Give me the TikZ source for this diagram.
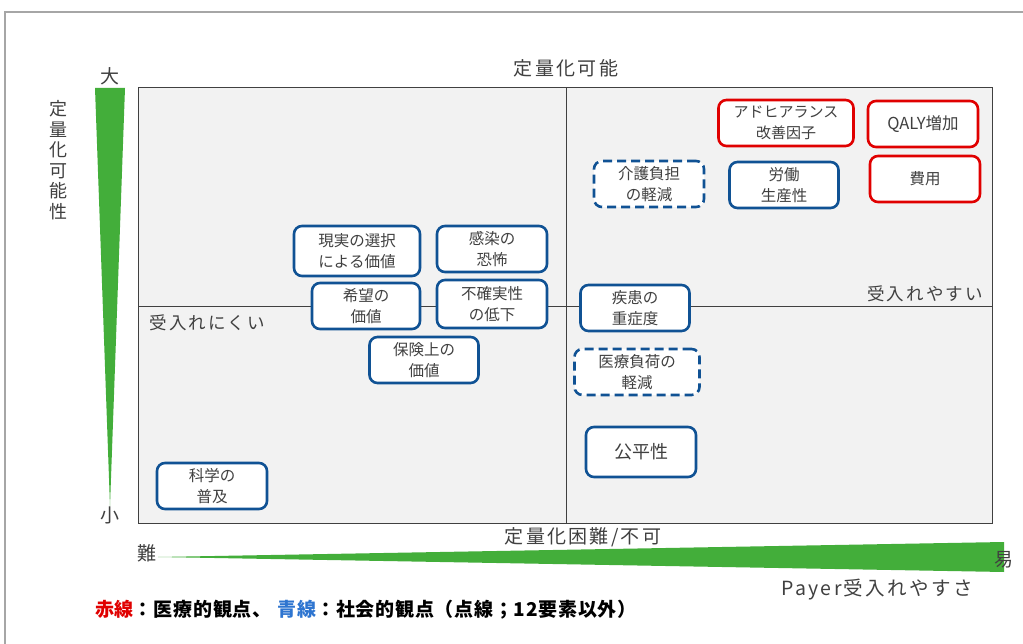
\documentclass[tikz,border=0pt]{standalone}
\usepackage{fontspec}
\setmainfont{Noto Sans CJK JP}
\newfontfamily\spaced[LetterSpace=12]{Noto Sans CJK JP}
\newfontfamily\legfont[LetterSpace=4]{Noto Sans CJK JP}
\definecolor{bbord}{RGB}{16,82,148}
\definecolor{rbord}{RGB}{224,0,0}
\definecolor{gfill}{RGB}{67,174,58}
\definecolor{txt}{RGB}{64,64,64}
\definecolor{plotbg}{RGB}{242,242,242}
\definecolor{legblue}{RGB}{46,117,208}
\tikzset{
  box/.style={draw=bbord, line width=2.6pt, rounded corners=8pt, fill=white, align=center,
    text=txt, inner sep=0pt, font=\fontsize{15.5}{20.5}\selectfont, minimum height=46pt},
  redbox/.style={box, draw=rbord},
  dbox/.style={box, dash pattern=on 9pt off 5pt},
  lbl/.style={text=txt, inner sep=0pt, font=\spaced\fontsize{19}{22}\selectfont},
}
\begin{document}
\begin{tikzpicture}[x=1pt,y=-1pt]
\useasboundingbox (0,0) rectangle (1023,644);
\fill[white] (0,0) rectangle (1023,644);
% outer frame
\draw[gray!70, line width=1.2pt] (5,644) -- (5,12) -- (1023,12);
% plot area
\draw[fill=plotbg, draw=black!75, line width=1pt] (138,88) rectangle (992,523);
\coordinate (vt) at (566,88);
\coordinate (vb) at (566,523);
\coordinate (hl) at (138,306);
\coordinate (hr) at (992,306);
\draw[black!75, line width=0.9pt] (vt) -- (vb);
\draw[black!75, line width=0.9pt] (hl) -- (hr);
% green wedges
\fill[gfill] (95,88) -- (125,88) -- (110,506) -- cycle;
\fill[gfill] (158,557) -- (1004,542) -- (1004,572) -- cycle;
% axis labels
\node[lbl] (big) at (110,76) {大};
\node[lbl] (small) at (110,515) {小};
\node[lbl, align=center, font=\fontsize{18}{20.5}\selectfont] (vlab) at (58,160) {定\\量\\化\\可\\能\\性};
\node[lbl] (top) at (566,68) {定量化可能};
\node[lbl] (bot) at (583,537) {定量化困難/不可};
\node[lbl] (hard) at (147,553) {難};
\node[lbl] (easy) at (1004,560) {易};
\node[lbl, font=\spaced\fontsize{19.5}{22}\selectfont] (payer) at (877,590) {Payer受入れやすさ};
\node[lbl, font=\spaced\fontsize{17.5}{22}\selectfont] (accl) at (207,323) {受入れにくい};
\node[lbl, font=\spaced\fontsize{17.5}{22}\selectfont] (accr) at (925,294) {受入れやすい};
% boxes
\node[redbox, minimum width=135pt, font=\fontsize{15}{20.5}\selectfont] (adh) at (786,123) {アドヒアランス\\改善因子};
\node[redbox, minimum width=110pt, font=\fontsize{16.5}{20}\selectfont] (qaly) at (923,124) {QALY増加};
\node[redbox, minimum width=110pt] (cost) at (925,179) {費用};
\node[dbox, minimum width=110pt] (care) at (649,184) {介護負担\\の軽減};
\node[box, minimum width=109pt] (labor) at (784,185) {労働\\生産性};
\node[box, minimum width=126pt, minimum height=50pt] (real) at (357,251) {現実の選択\\による価値};
\node[box, minimum width=110pt] (fear) at (492,249) {感染の\\恐怖};
\node[box, minimum width=108pt] (hope) at (366,306) {希望の\\価値};
\node[box, minimum width=110pt, minimum height=48pt] (unc) at (492,304) {不確実性\\の低下};
\node[box, minimum width=109pt] (ins) at (424,360) {保険上の\\価値};
\node[box, minimum width=109pt] (sev) at (635,308) {疾患の\\重症度};
\node[dbox, minimum width=125pt] (med) at (637,372) {医療負荷の\\軽減};
\node[box, minimum width=110pt, minimum height=50pt, font=\fontsize{18}{20}\selectfont] (eq) at (641,452) {公平性};
\node[box, minimum width=110pt] (sci) at (212,486) {科学の\\普及};
% legend
\node[anchor=west, inner sep=0pt, font=\legfont\bfseries\fontsize{19}{22}\selectfont] (leg) at (95,610)
  {\textcolor{rbord}{赤線}：医療的観点、\hspace{6pt}\textcolor{legblue}{青線}：社会的観点（点線；12要素以外）};
\end{tikzpicture}
\end{document}
